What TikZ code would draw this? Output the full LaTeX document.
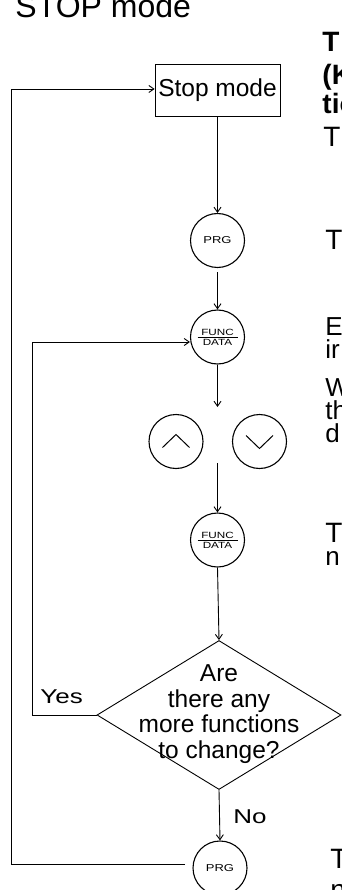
\documentclass[tikz,border=0pt]{standalone}
\usepackage{fontspec}
\setmainfont{Liberation Sans}
\newfontfamily\widefont[FakeStretch=1.3]{Liberation Sans}
\usetikzlibrary{arrows.meta,shapes.geometric}
\begin{document}
\begin{tikzpicture}[x=1pt,y=-1pt,line width=0.9pt,
  flow/.style={-{Straight Barb[length=5pt,width=7pt]}},
  keybtn/.style={circle,draw,line width=1.1pt,minimum size=54pt,inner sep=0pt},
  keytext/.style={inner sep=0pt,font=\widefont\fontsize{10}{10}\selectfont},
  fdtext/.style={inner sep=0pt,font=\widefont\fontsize{9}{9}\selectfont},
  frag/.style={anchor=base west,inner sep=0pt,font=\fontsize{28}{28}\selectfont},
  frags/.style={frag,font=\fontsize{26}{26}\selectfont},
  fragb/.style={frag,font=\bfseries\fontsize{28}{28}\selectfont},
  lbl/.style={anchor=base west,inner sep=0pt,font=\widefont\fontsize{20}{20}\selectfont}]
\useasboundingbox (0,0) rectangle (342,890);

% title
\node[anchor=base west,inner sep=0pt,font=\fontsize{32}{32}\selectfont] (title) at (15,18) {STOP mode};

% stop box
\node[draw,line width=0.8pt,minimum width=125pt,minimum height=52pt,inner sep=0pt,
      font=\fontsize{24.5}{24.5}\selectfont] (stop) at (217.5,90) {Stop mode};

% keys
\node[keybtn] (prg1) at (217.5,240.5) {};
\node[keytext] (prg1t) at (prg1.center) {PRG};

\node[keybtn] (fd1) at (217.5,337) {};
\node[fdtext,anchor=base] (fd1a) at ([yshift=1.8pt]fd1.center) {FUNC};
\node[fdtext,anchor=north] (fd1b) at ([yshift=-1.8pt]fd1.center) {DATA};
\draw[line width=0.6pt] ([xshift=-20pt]fd1.center) -- ([xshift=20pt]fd1.center);

\node[keybtn] (up) at (176,441.5) {};
\draw[line width=1pt] ([shift={(-13.5,6)}]up.center) -- ([shift={(0,-7)}]up.center) -- ([shift={(13.5,6)}]up.center);
\node[keybtn] (down) at (259.5,441.5) {};
\draw[line width=1pt] ([shift={(-13.5,-6)}]down.center) -- ([shift={(0,7)}]down.center) -- ([shift={(13.5,-6)}]down.center);

\node[keybtn] (fd2) at (217.5,540) {};
\node[fdtext,anchor=base] (fd2a) at ([yshift=1.8pt]fd2.center) {FUNC};
\node[fdtext,anchor=north] (fd2b) at ([yshift=-1.8pt]fd2.center) {DATA};
\draw[line width=0.6pt] ([xshift=-20pt]fd2.center) -- ([xshift=20pt]fd2.center);

% decision
\node[diamond,draw,line width=0.9pt,minimum width=244pt,minimum height=149pt,inner sep=0pt] (q) at (219,715) {};
\node[align=center,inner sep=0pt,font=\fontsize{24.5}{25.5}\selectfont] (qt) at (219,714)
  {Are\\there any\\more functions\\to change?};

\node[keybtn] (prg2) at (220,868) {};
\node[keytext] (prg2t) at (prg2.center) {PRG};

% labels
\node[lbl] (yes) at (40,703) {Yes};
\node[lbl] (no) at (233,823) {No};

% helper coordinates
\coordinate (a1) at (217.5,407);
\coordinate (a2) at (217.5,463);
\coordinate (l0) at (185,864);

% connectors
\draw[flow] (stop.south) -- (prg1.north);
\draw[flow] ([yshift=-4pt]prg1.south) -- (fd1.north);
\draw[flow] (fd1.south) -- (a1);
\draw[flow] (a2) -- (fd2.north);
\draw[flow] (fd2.south) -- (q.north);
\draw[flow] (q.south) -- (prg2.north);
\draw[flow] (q.west) -- (32,715) -- (32,342) -- (fd1.west |- 0,342);
\draw[flow] (l0) -- (11,864) -- (11,89) -- (stop.west |- 0,89);

% text fragments at right edge
\node[fragb] (f1) at (322,52) {T};
\node[fragb] (f2) at (322,85) {(K};
\node[fragb] (f3) at (322,114) {tio};
\node[frag] (f4) at (323,147) {T};
\node[frag] (f5) at (325,250) {T};
\node[frags] (f6) at (325,335) {E};
\node[frags] (f7) at (325,358) {ir};
\node[frags] (f8) at (325,396) {W};
\node[frags] (f9) at (325,419) {th};
\node[frags] (f10) at (325,442) {d};
\node[frag] (f11) at (325,542) {T};
\node[frags] (f12) at (325,565) {n};
\node[frag] (f13) at (330,868) {T};
\node[frag] (f14) at (330,899) {n};
\end{tikzpicture}
\end{document}
